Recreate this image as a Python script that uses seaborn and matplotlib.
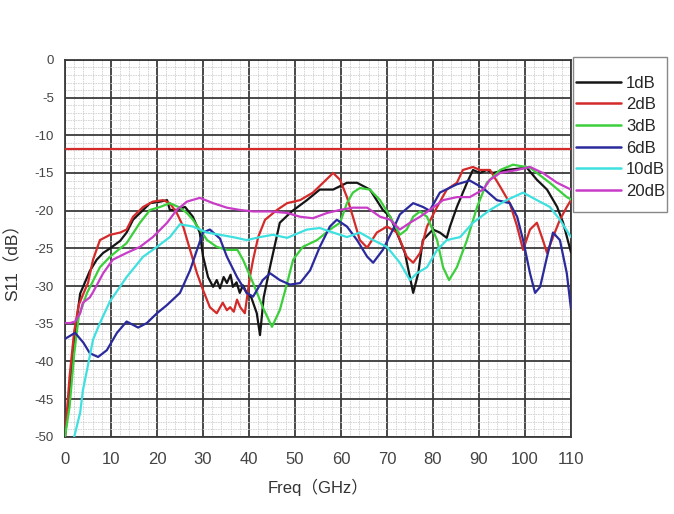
import pandas as pd
import matplotlib
matplotlib.use("Agg")
import matplotlib.pyplot as plt
from matplotlib.ticker import MultipleLocator
from matplotlib.patches import Rectangle
import seaborn as sns

# --- data (Freq in GHz, S11 in dB) ---
f_1db = [0, 1, 2, 3.3, 5.4, 6.9, 8.3, 9.8, 12, 13.4, 14.8, 17, 18.5, 20.7, 22.2, 22.8, 24.3,
         26.1, 27.8, 29.3, 30, 31.1, 32.2, 33, 33.7, 34.5, 35.2, 36, 36.5, 37.3, 38, 38.7, 39.5,
         40.5, 41.7, 42.4, 43.2, 44.6, 46.7, 49.3, 52.6, 55.4, 58.3, 61.3, 63.5, 66.3, 69.1,
         70.7, 72.8, 73.9, 75.7, 76.8, 77.8, 80, 81.5, 83, 83.7, 85.2, 87.4, 88.7, 90.2, 91.7,
         93, 96, 100.4, 102.6, 104.8, 107, 108.3, 110]
s_1db = [-50, -44, -37, -31, -28, -26.5, -25.6, -25, -24, -22.9, -21.2, -19.9, -19, -18.8, -18.6,
         -19.9, -19.9, -19.5, -20.8, -22.9, -26, -28.8, -30.1, -29.2, -30.3, -28.8, -29.6, -28.5,
         -30.1, -29.5, -30.9, -29.9, -30.9, -31.5, -33.6, -36.5, -31.5, -27.4, -21.6, -20.1,
         -18.6, -17.2, -17.2, -16.3, -16.3, -17.2, -19.9, -20.8, -23.9, -25.6, -30.9, -28.3,
         -23.9, -22.5, -22.9, -23.6, -22.1, -19.5, -16.3, -14.6, -15, -14.6, -15, -14.6, -14.3,
         -15.9, -17.2, -19.5, -21.6, -25.5]

f_2db = [0, 1, 2, 3, 4, 5, 6.1, 7.6, 9.8, 12, 13.4, 14.8, 17, 19.1, 21.3, 22.8, 24.3, 25.7, 27.2,
         28.7, 30, 31.5, 33, 34.3, 35.2, 35.9, 36.7, 37.4, 38.1, 39.1, 40.2, 40.9, 42, 43.5,
         46.1, 48.3, 51.1, 53.9, 56.1, 58.3, 59.8, 61.3, 62.6, 64.1, 65.7, 67.8, 70, 72.2, 74.3,
         75.7, 77.2, 78.7, 80.9, 83, 85.2, 86.5, 88.7, 90.2, 92.4, 94.6, 96.7, 98.3, 99.6, 101.1,
         102.6, 103.9, 104.8, 106.1, 107.6, 109.1, 110]
s_2db = [-50, -42, -36, -32.5, -31, -29.6, -26.5, -23.9, -23.2, -22.9, -22.5, -20.8, -19.5, -18.8,
         -18.6, -19, -20.3, -22.1, -25.2, -28.3, -30.5, -32.8, -33.6, -32.2, -33.2, -32.8, -33.4,
         -31.8, -32.8, -33.6, -28.8, -26.5, -23.5, -21.2, -19.9, -19, -18.6, -17.6, -16.3, -15,
         -15.9, -18.2, -20.8, -23.9, -24.9, -22.9, -22.1, -22.9, -26.1, -26.9, -25.6, -22.1,
         -19.5, -17.2, -16.3, -14.6, -14.2, -14.6, -14.6, -16.8, -19, -22.1, -25.2, -22.5,
         -21.6, -23.9, -25.6, -23.5, -21.2, -19.5, -18.6]

f_3db = [0, 1, 2, 3, 4.8, 7.6, 9.8, 13.4, 16.3, 18.5, 20.7, 22.8, 25, 26.5, 27.8, 29.3, 30.9, 33,
         35.2, 37.5, 38.7, 40.9, 43, 45, 46.7, 48.3, 49.6, 51.7, 54.8, 57.6, 59.8, 61.3, 62.6,
         64.1, 66.3, 68.5, 70.7, 72.8, 74.3, 75.7, 77.2, 78.7, 80.9, 82.2, 83.5, 85.2, 87.4, 89.6,
         91.7, 94.6, 97.4, 101.1, 105.4, 109.1, 110]
s_3db = [-50, -46, -39, -34, -30.9, -27.5, -26.1, -24.3, -21.6, -19.9, -19.5, -19, -19.6, -20.3,
         -21.2, -22.5, -23.9, -24.8, -25.2, -25.2, -26.5, -29.6, -32.8, -35.4, -33.2, -29.6,
         -26.5, -24.8, -23.9, -22.5, -21.6, -19, -17.6, -17, -17.2, -18.6, -20.8, -23.2, -22.5,
         -20.8, -20.1, -20.8, -23.9, -27.5, -29.2, -27.5, -23.9, -19.5, -16.3, -14.6, -13.9,
         -14.3, -16.3, -18.2, -18.5]

f_6db = [0, 2.2, 4, 5.4, 7.2, 9.1, 11.3, 13.4, 15.9, 17.8, 20, 22.2, 25, 27.2, 28.7, 30, 31.5,
         33.7, 35.2, 37.4, 39.5, 40.9, 43, 44.6, 46.7, 48.9, 51.1, 53.3, 55.4, 57.6, 59.1, 61.3,
         63.5, 65.7, 67, 69.1, 71.3, 72.8, 75.7, 77.8, 79.3, 81.5, 85.2, 88, 90.9, 93.9, 96.7,
         98.3, 99.6, 101.1, 102.2, 103.3, 104.8, 106.1, 107.6, 109.1, 110]
s_6db = [-37, -36.2, -37.5, -38.9, -39.4, -38.5, -36.2, -34.7, -35.5, -34.9, -33.6, -32.5, -30.9,
         -27.9, -25.2, -22.9, -22.5, -23.7, -26.1, -28.8, -30.9, -31.4, -29.2, -28.3, -29.2,
         -29.8, -29.6, -27.9, -24.8, -22.1, -21.2, -22.1, -23.9, -26.1, -26.9, -25.2, -22.5,
         -20.5, -19, -19.5, -20, -17.6, -16.5, -16, -17, -18.6, -19, -20.8, -23.9, -28.3, -30.9,
         -30.1, -26.1, -22.9, -23.9, -28.3, -33]

f_10db = [1.8, 3.3, 3.9, 4.8, 6.1, 7.6, 9.8, 11.5, 13.4, 17, 20, 22.8, 25, 27.8, 30.9, 33.7, 36.5,
          39.5, 42.4, 45.2, 48.3, 52.6, 55.4, 58.3, 61.3, 64.1, 67, 70, 72.8, 75, 76.5, 78.7,
          80.9, 83, 85.9, 88.7, 92.4, 96, 99.6, 102.6, 105.4, 107.6, 110]
s_10db = [-50.5, -46.8, -43.8, -41.1, -37.1, -34.9, -32, -30.5, -28.8, -26.1, -24.8, -23.5, -21.8,
          -22.1, -22.9, -23.2, -23.5, -23.9, -23.5, -23.2, -23.6, -22.5, -22.3, -22.9, -23.5,
          -22.9, -23.9, -24.8, -26.9, -29.2, -28.3, -27.5, -25.2, -23.9, -23.5, -21.6, -19.9,
          -18.6, -17.6, -18.6, -19.5, -21.2, -23.5]

f_20db = [0, 1.1, 2.2, 3.3, 3.9, 5.4, 6.1, 8.3, 10.4, 13.4, 16.3, 19.1, 22.2, 24.3, 26.5, 29.3,
          32.2, 35.2, 38, 40.9, 44.6, 48.3, 51.1, 53.9, 57, 59.8, 62.6, 65.7, 68.5, 70.7, 72.8,
          75, 77.2, 79.3, 82.2, 85.2, 88, 90.9, 92.4, 94.6, 98.3, 101.1, 103.9, 107, 110]
s_20db = [-34.9, -34.9, -34.7, -33.6, -32.2, -31.5, -30.8, -28.3, -26.5, -25.6, -24.8, -23.5,
          -21.6, -19.9, -18.8, -18.3, -19, -19.6, -19.9, -20.1, -20.1, -20.3, -20.8, -21, -20.3,
          -19.9, -19.6, -19.6, -20.8, -21.2, -22.5, -21.6, -20.8, -19.9, -18.6, -18.2, -18.2,
          -17.2, -15.9, -15, -14.6, -14.2, -15, -16.3, -17.2]

limit_f = [0, 110]
limit_s = [-11.8, -11.8]

labels = ["1dB", "2dB", "3dB", "6dB", "10dB", "20dB"]
colors = ["#151515", "#d42a2a", "#3ccf3c", "#2a2a9c", "#3fe0e0", "#c83cc8"]

if __name__ == "__main__":
    series = [(f_1db, s_1db), (f_2db, s_2db), (f_3db, s_3db),
              (f_6db, s_6db), (f_10db, s_10db), (f_20db, s_20db)]
    frames = []
    for lab, (f, s) in zip(labels, series):
        frames.append(pd.DataFrame({"Freq": f, "S11": s, "att": lab}))
    df = pd.concat(frames, ignore_index=True)

    sns.set_style("white")
    plt.rcParams["font.family"] = ["Liberation Sans", "Noto Sans CJK SC", "DejaVu Sans"]
    plt.rcParams["axes.unicode_minus"] = False

    fig = plt.figure(figsize=(6.74, 5.14), dpi=100)
    ax = fig.add_axes([0.0964, 0.150, 0.7507, 0.7335])

    # limit line
    ax.plot(limit_f, limit_s, color="#d42a2a", lw=1.6, zorder=3)

    sns.lineplot(data=df, x="Freq", y="S11", hue="att", hue_order=labels,
                 palette=dict(zip(labels, colors)), sort=False, estimator=None,
                 lw=1.6, ax=ax, zorder=4)

    ax.set_xlim(0, 110)
    ax.set_ylim(-50, 0)
    ax.xaxis.set_major_locator(MultipleLocator(10))
    ax.xaxis.set_minor_locator(MultipleLocator(2))
    ax.yaxis.set_major_locator(MultipleLocator(5))
    ax.yaxis.set_minor_locator(MultipleLocator(1))

    ax.grid(which="minor", color="#d0d0d0", lw=0.6, ls=(0, (2, 1)))
    ax.grid(which="major", color="#3a3a3a", lw=1.3)
    ax.set_axisbelow(True)
    for sp in ax.spines.values():
        sp.set_color("#3a3a3a")
        sp.set_linewidth(1.3)

    ax.tick_params(which="major", direction="inout", length=6, width=1, color="#444444")
    ax.tick_params(which="minor", direction="out", length=3, width=0.8, color="#444444")
    ax.tick_params(axis="x", labelsize=12, labelcolor="#444444", pad=8)
    ax.tick_params(axis="y", labelsize=9.5, labelcolor="#444444", pad=5)

    ax.set_xlabel("Freq（GHz）", fontsize=12, color="#333333", labelpad=8)
    ax.set_ylabel("S11（dB）", fontsize=12.5, color="#333333")
    ax.yaxis.set_label_coords(-0.088, 0.475)

    leg = ax.legend(loc="upper left", bbox_to_anchor=(0.8545, 0.853),
                    bbox_transform=fig.transFigure, borderaxespad=0, borderpad=0,
                    fontsize=12, frameon=False, handlelength=2.7, labelspacing=0.4,
                    handletextpad=0.3)
    for line in leg.get_lines():
        line.set_linewidth(1.8)
    # legend box drawn separately: taller than wide padding
    fig.patches.append(Rectangle((0.8501, 0.5875), 0.1395, 0.3016, transform=fig.transFigure,
                                 fill=False, edgecolor="#888888", lw=1.0))

    fig.savefig("out.png", dpi=100)
